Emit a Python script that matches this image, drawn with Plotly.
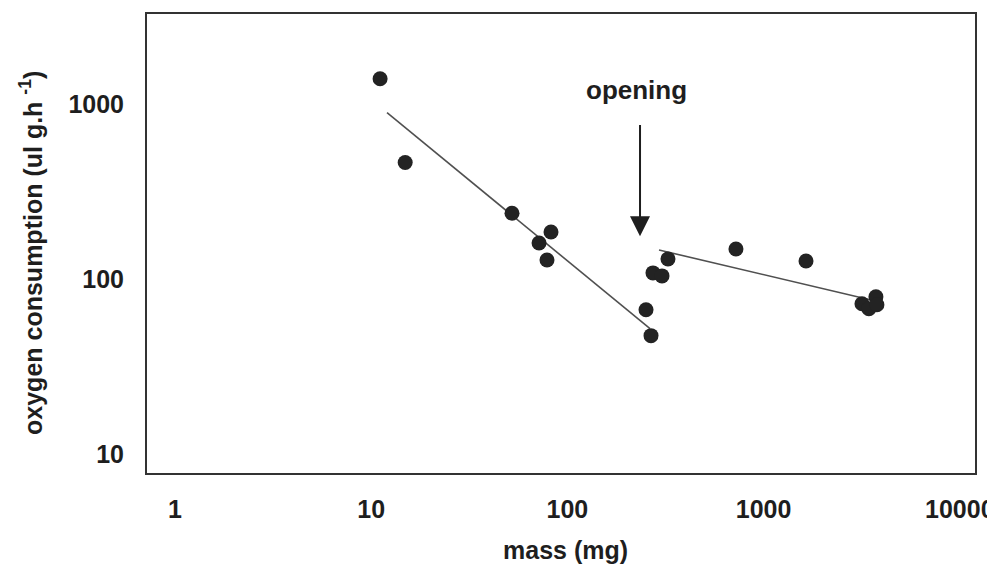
import math
import plotly.graph_objects as go

# ---- data ----
mass_mg = [11.1, 14.9, 52.2, 82.5, 71.7, 78.7, 251.6, 266.8, 325.6, 273, 303.5,
           723, 1645, 3173, 3441, 3737, 3781]
oxygen = [1396, 464, 238, 186, 160.7, 128.7, 66.8, 47.5, 130.3, 108.5, 104.3,
          148.6, 127, 72.3, 67.7, 79.3, 71.4]

fit1_mass = [12.04, 263.7]
fit1_oxy = [894, 52.1]
fit2_mass = [293, 3486]
fit2_oxy = [146.7, 76.2]

arrow_mass = 234.5
arrow_tail_oxy = 774
arrow_tip_oxy = 176
label_mass = 226
label_oxy = 1209
label_text = "opening"

x_ticks = [1, 10, 100, 1000, 10000]
y_ticks = [10, 100, 1000]

FONT = "Liberation Sans, Arial, sans-serif"
INK = "#1e1e1e"

fig = go.Figure()
fig.add_trace(go.Scatter(x=fit1_mass, y=fit1_oxy, mode="lines",
                         line=dict(color="#505050", width=1.6), showlegend=False))
fig.add_trace(go.Scatter(x=fit2_mass, y=fit2_oxy, mode="lines",
                         line=dict(color="#505050", width=1.6), showlegend=False))
fig.add_trace(go.Scatter(x=mass_mg, y=oxygen, mode="markers",
                         marker=dict(color="#232323", size=15, line=dict(width=0)),
                         showlegend=False))

fig.add_annotation(x=math.log10(arrow_mass), y=math.log10(arrow_tip_oxy),
                   ax=math.log10(arrow_mass), ay=math.log10(arrow_tail_oxy),
                   axref="x", ayref="y", xref="x", yref="y", text="",
                   showarrow=True, arrowhead=2, arrowwidth=2, arrowsize=2,
                   arrowcolor=INK, standoff=0)
fig.add_annotation(x=math.log10(label_mass), y=math.log10(label_oxy),
                   xref="x", yref="y", text="<b>%s</b>" % label_text, showarrow=False,
                   font=dict(family=FONT, size=26, color=INK))

# plot area in screen pixels: x 147..975, y 12..473 (page has an 8px body margin)
PW, PH = 828, 461
fig.add_annotation(x=(565 - 147) / PW, y=-(550 - 473) / PH, xref="paper", yref="paper",
                   xanchor="center", yanchor="middle",
                   text="<b>mass (mg)</b>", showarrow=False,
                   font=dict(family=FONT, size=25, color=INK))
fig.add_annotation(x=(31 - 147) / PW, y=1 - (252 - 12) / PH, xref="paper", yref="paper",
                   xanchor="center", yanchor="middle",
                   text="<b>oxygen consumption (ul g.h <sup>-1</sup>)</b>", showarrow=False,
                   textangle=-90,
                   font=dict(family=FONT, size=25, color=INK))

fig.update_layout(
    width=995, height=569,
    margin=dict(l=139, r=28, t=4, b=104),
    paper_bgcolor="white", plot_bgcolor="white",
    font=dict(family=FONT, color=INK),
)
fig.update_xaxes(type="log", range=[-0.1427, 4.0775],
                 tickvals=x_ticks, ticktext=["<b>%d</b>" % v for v in x_ticks],
                 tickfont=dict(family=FONT, size=25, color=INK),
                 showgrid=False, zeroline=False, ticks="",
                 showline=True, mirror=True, linecolor="#333333", linewidth=2,
                 ticklabelstandoff=13)
fig.update_yaxes(type="log", range=[0.8919, 3.515],
                 tickvals=y_ticks, ticktext=["<b>%d</b>" % v for v in y_ticks],
                 tickfont=dict(family=FONT, size=25, color=INK),
                 showgrid=False, zeroline=False, ticks="",
                 showline=True, mirror=True, linecolor="#333333", linewidth=2,
                 ticklabelstandoff=16)

fig.write_html("out.html")
